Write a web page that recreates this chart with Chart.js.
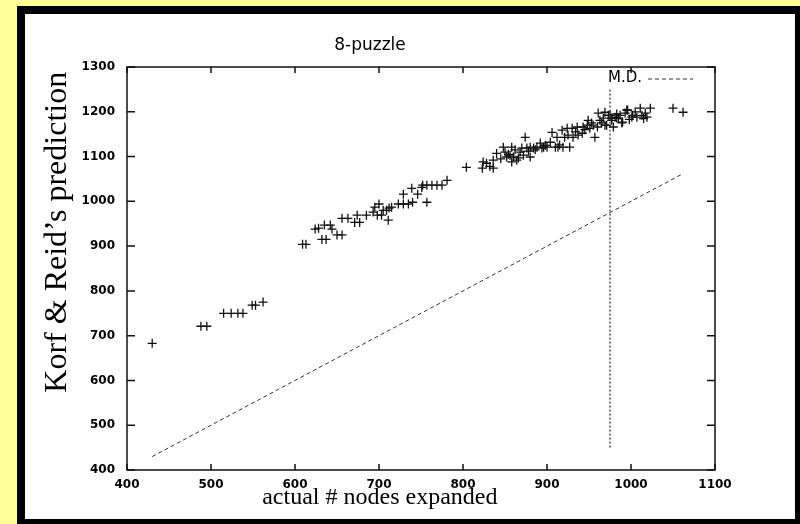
<!DOCTYPE html>
<html>
<head>
<meta charset="utf-8">
<script src="https://cdn.jsdelivr.net/npm/chart.js@4.4.1/dist/chart.umd.min.js"></script>
<style>
html, body { margin:0; padding:0; width:800px; height:524px; overflow:hidden; background:#ffff99; }
#frame { position:absolute; left:17px; top:6px; width:783px; height:518px; box-sizing:border-box;
  border:solid #000; border-width:8px 5px 5px 8px; background:#fff; }
canvas { display:block; }
</style>
</head>
<body>
<div id="frame"><canvas id="chart" width="770" height="505"></canvas></div>
<script>
const titleText = '8-puzzle';
const xTitle = 'actual # nodes expanded';
const yTitle = 'Korf & Reid\u2019s prediction';
const legendLabel = 'M.D.';

const xTicks = [400, 500, 600, 700, 800, 900, 1000, 1100];
const yTicks = [400, 500, 600, 700, 800, 900, 1000, 1100, 1200, 1300];

// actual nodes expanded (x) / predicted (y)
const actual = [
  430, 488, 495, 515, 524, 532, 538, 549, 553, 562,
  609, 613, 624, 628, 632, 637, 635, 642, 644, 650, 656,
  656, 663, 671, 677, 674, 685, 693, 695, 700, 698, 703, 705, 709, 712, 715, 711,
  723, 729, 735, 740, 729, 739, 746, 751, 757,
  752, 757, 763, 769, 775, 781, 804,
  823, 824, 828, 832, 836, 836, 840, 845,
  848, 850, 852, 854, 856, 858, 858, 860, 862, 864, 866, 868, 870, 872, 874, 876, 878,
  880, 880, 884, 886, 888, 892, 894, 896, 898, 900, 904, 906, 910, 912, 913, 915,
  918, 919, 921, 924, 925, 927, 930, 931, 934, 936, 937, 942, 943, 945, 948, 949,
  951, 953, 955, 957, 960, 961, 963, 965, 967, 969, 969, 971, 973, 975, 977, 977,
  979, 981, 983, 983, 985, 987, 989, 990, 993, 995, 996, 998, 1001, 1002, 1005,
  1007, 1011, 1013, 1015, 1017, 1019, 1023, 1050, 1062
];
const predicted = [
  683, 721, 721, 750, 750, 750, 750, 768, 768, 775,
  904, 904, 938, 940, 915, 915, 947, 947, 938, 925, 925,
  962, 962, 953, 953, 969, 969, 976, 987, 994, 969, 969, 980, 980, 985, 987, 958,
  994, 994, 994, 998, 1016, 1029, 1016, 1031, 998,
  1036, 1036, 1036, 1036, 1036, 1047, 1076,
  1074, 1088, 1085, 1078, 1074, 1092, 1107, 1095,
  1121, 1110, 1099, 1105, 1103, 1121, 1088, 1099, 1115, 1092, 1097, 1110, 1119, 1103, 1143, 1119, 1112,
  1121, 1099, 1119, 1115, 1121, 1130, 1119, 1121, 1125, 1121, 1132, 1154, 1121, 1143, 1121, 1126,
  1159, 1121, 1143, 1163, 1148, 1121, 1163, 1143, 1155, 1166, 1148, 1152, 1166, 1160, 1170, 1181,
  1163, 1175, 1170, 1143, 1166, 1197, 1181, 1175, 1186, 1199, 1170, 1170, 1192, 1192, 1181, 1186,
  1166, 1188, 1186, 1195, 1186, 1192, 1175, 1177, 1197, 1204, 1204, 1183, 1188, 1192, 1200,
  1188, 1208, 1192, 1185, 1197, 1188, 1208, 1208, 1199
];

// dashed reference line and vertical dotted marker
const diagX = [430, 1060];
const diagY = [430, 1060];
const mdX = [975, 975];
const mdY = [450, 1250];

const pts = (xs, ys) => xs.map((v, i) => ({x: v, y: ys[i]}));

const tickFont = {family: '"DejaVu Sans", sans-serif', size: 12, weight: 'bold'};

const frameTicks = {
  id: 'frameTicks',
  afterDraw(chart) {
    const {ctx, chartArea: a, scales: {x, y}} = chart;
    const w = a.right - a.left, h = a.bottom - a.top;
    ctx.save();
    ctx.strokeStyle = '#111';
    ctx.lineWidth = 1.5;
    ctx.strokeRect(a.left, a.top, w, h);
    ctx.beginPath();
    xTicks.forEach(v => {
      const p = x.getPixelForValue(v);
      ctx.moveTo(p, a.bottom); ctx.lineTo(p, a.bottom - 6);
      ctx.moveTo(p, a.top); ctx.lineTo(p, a.top + 6);
    });
    yTicks.forEach(v => {
      const p = y.getPixelForValue(v);
      ctx.moveTo(a.left, p); ctx.lineTo(a.left + 8, p);
      ctx.moveTo(a.right, p); ctx.lineTo(a.right - 8, p);
    });
    ctx.stroke();

    // axis titles
    ctx.fillStyle = '#000';
    ctx.font = '24px "Liberation Serif", "Times New Roman", serif';
    ctx.textAlign = 'center';
    ctx.textBaseline = 'alphabetic';
    ctx.fillText(xTitle, a.left + w * 0.43, chart.height - 15);
    ctx.save();
    ctx.translate(41, a.top + h * 0.41);
    ctx.rotate(-Math.PI / 2);
    ctx.font = '32px "Liberation Serif", "Times New Roman", serif';
    ctx.fillText(yTitle, 0, 0);
    ctx.restore();

    // key
    ctx.font = '15px "DejaVu Sans", sans-serif';
    ctx.textAlign = 'right';
    ctx.textBaseline = 'middle';
    ctx.fillText(legendLabel, a.right - 73, a.top + 11);
    ctx.strokeStyle = '#333';
    ctx.lineWidth = 1;
    ctx.setLineDash([4, 3]);
    ctx.beginPath();
    ctx.moveTo(a.right - 67, a.top + 12);
    ctx.lineTo(a.right - 22, a.top + 12);
    ctx.stroke();
    ctx.restore();
  }
};

new Chart(document.getElementById('chart'), {
  type: 'scatter',
  data: {
    datasets: [
      {label: legendLabel, data: pts(diagX, diagY), showLine: true, pointRadius: 0,
        borderColor: '#333', borderWidth: 1, borderDash: [4, 3]},
      {label: 'marker', data: pts(mdX, mdY), showLine: true, pointRadius: 0,
        borderColor: '#000', borderWidth: 1, borderDash: [2, 2]},
      {label: 'puzzles', data: pts(actual, predicted), pointStyle: 'cross', pointRadius: 4.5,
        borderColor: '#111', borderWidth: 1.3}
    ]
  },
  options: {
    responsive: false,
    animation: false,
    events: [],
    layout: {padding: {left: 0, top: 0, right: 80, bottom: 0}},
    plugins: {
      legend: {display: false},
      tooltip: {enabled: false},
      title: {display: true, text: titleText, color: '#000',
        font: {family: '"DejaVu Sans", sans-serif', size: 17, weight: 'normal'},
        padding: {top: 21, bottom: 11.6}}
    },
    scales: {
      x: {type: 'linear', min: 400, max: 1100,
        afterBuildTicks: s => { s.ticks = xTicks.map(v => ({value: v})); },
        afterFit: s => { s.height = 49; },
        grid: {display: false, drawTicks: false}, border: {display: false},
        ticks: {padding: 8, color: '#000', font: tickFont, callback: v => String(v)}},
      y: {type: 'linear', min: 400, max: 1300,
        afterBuildTicks: s => { s.ticks = yTicks.map(v => ({value: v})); },
        afterFit: s => { s.width = 102; },
        grid: {display: false, drawTicks: false}, border: {display: false},
        ticks: {padding: 12, color: '#000', font: tickFont, callback: v => String(v)}}
    }
  },
  plugins: [frameTicks]
});
</script>
</body>
</html>
